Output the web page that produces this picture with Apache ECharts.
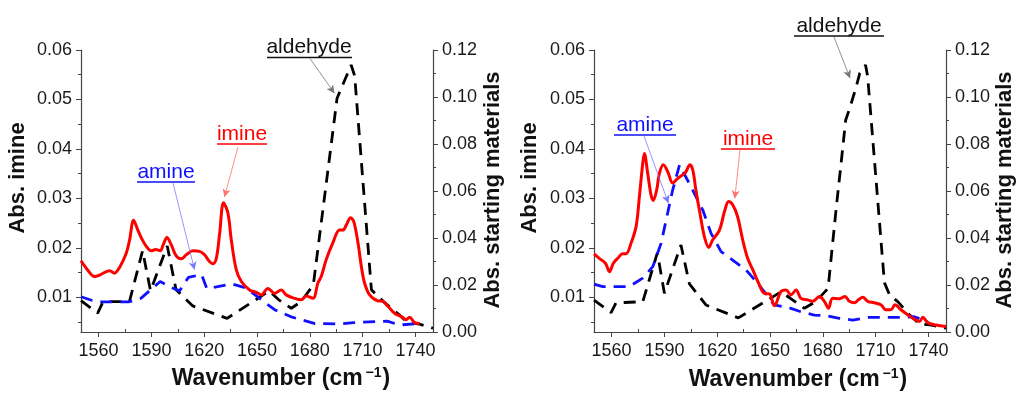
<!DOCTYPE html>
<html>
<head>
<meta charset="utf-8">
<title>imine / amine / aldehyde spectra</title>
<script src="https://cdn.jsdelivr.net/npm/echarts@6/dist/echarts.min.js"></script>
<style>
html, body { margin: 0; padding: 0; background: #fff; }
#chart { width: 1024px; height: 396px; }
</style>
</head>
<body>
<div id="chart"></div>
<script>
// ticks
const xTicks = [1560, 1590, 1620, 1650, 1680, 1710, 1740];
const xMinorTicks = [1575, 1605, 1635, 1665, 1695, 1725];
const imineTicks = [0.01, 0.02, 0.03, 0.04, 0.05, 0.06];
const imineMinorTicks = [0.005, 0.015, 0.025, 0.035, 0.045, 0.055];

// left panel - imine (left axis)
const imineA_x = [1550,1553,1557.7,1560.6,1566.3,1569,1572,1575.7,1577.6,1579.9,1582.3,1584.3,1587.1,1590,1592.4,1595,1596.9,1598.8,1601.3,1604.1,1607,1609.8,1613.6,1617.4,1620.2,1623.1,1625,1626.9,1628.8,1631,1633.5,1635.4,1638.2,1641.1,1645.8,1649.6,1652.4,1656.2,1660,1663.8,1666.6,1671.4,1675.2,1678,1681.8,1684.6,1686.5,1689.3,1693.1,1696.9,1698.8,1700.7,1703.2,1705,1707.4,1709.3,1711.1,1714,1718.7,1721.5,1724.4,1728.2,1732,1734.8,1736.7,1739.5,1742.4];
const imineA_y = [0.0174,0.0159,0.0142,0.0145,0.0154,0.0149,0.0161,0.0189,0.0216,0.0256,0.0236,0.0220,0.0203,0.0194,0.0197,0.0194,0.0208,0.0221,0.0206,0.0184,0.0178,0.0186,0.0194,0.0193,0.0186,0.0172,0.0168,0.0179,0.0230,0.0291,0.0270,0.0216,0.0156,0.0132,0.0115,0.0110,0.0105,0.0118,0.0108,0.0115,0.0105,0.0098,0.0095,0.0103,0.0098,0.0129,0.0142,0.0176,0.0210,0.0236,0.0236,0.0246,0.0261,0.0253,0.0210,0.0162,0.0129,0.0105,0.0093,0.0092,0.0082,0.0068,0.0061,0.0055,0.0060,0.0049,0.0047];

// left panel - aldehyde (right axis)
const aldA_x = [1550,1559.5,1562.5,1577.5,1585,1589.5,1599,1604,1613.5,1633,1657,1662,1669.5,1675,1682,1695.5,1703.5,1705.5,1715,1718,1722.5,1731,1735,1742,1750];
const aldA_y = [0.0133,0.0080,0.0129,0.0129,0.0346,0.0175,0.0366,0.0180,0.0111,0.0058,0.0175,0.0139,0.0101,0.0129,0.0200,0.0995,0.1136,0.1090,0.0180,0.0157,0.0125,0.0072,0.0044,0.0034,0.0016];

// left panel - amine (right axis)
const amineA_x = [1550,1556,1562,1577,1584,1595,1601,1606,1611,1618.5,1621.5,1636,1644,1652,1660,1670,1683,1697,1705,1724,1731,1741];
const amineA_y = [0.0150,0.0135,0.0128,0.0128,0.0143,0.0215,0.0190,0.0175,0.0232,0.0245,0.0185,0.0204,0.0187,0.0140,0.0095,0.0063,0.0036,0.0034,0.0040,0.0046,0.0030,0.0035];

// right panel - imine (left axis)
const imineB_x = [1550,1553,1556.5,1558.8,1561,1563.5,1566.3,1568.2,1571,1573.9,1575.8,1577.7,1578.6,1580.5,1582.4,1583.7,1585.6,1587.2,1589.4,1591.9,1594.7,1596.6,1598.9,1601.9,1604.5,1606.1,1607.9,1610.2,1612.7,1615.2,1617.4,1621.3,1624.1,1626.5,1628.8,1631.6,1634.5,1637.3,1640.2,1644,1646.8,1649.7,1652.5,1656.3,1659.1,1661.9,1664.8,1667.6,1671.4,1674.3,1678.1,1680.9,1683.2,1685.6,1689.4,1692.6,1695.1,1698,1700.2,1702.7,1705.5,1709.3,1713,1715.9,1718.8,1721,1724.4,1728.2,1732,1734.9,1736.8,1739.6,1744.3,1750];
const imineB_y = [0.0188,0.0179,0.0169,0.0152,0.0169,0.0179,0.0188,0.0188,0.0209,0.0243,0.0304,0.0371,0.0391,0.0351,0.0307,0.0296,0.0317,0.0351,0.0368,0.0354,0.0331,0.0337,0.0344,0.0352,0.0368,0.0358,0.0317,0.0270,0.0223,0.0201,0.0216,0.0236,0.0273,0.0294,0.0287,0.0263,0.0216,0.0179,0.0156,0.0125,0.0108,0.0107,0.0083,0.0112,0.0115,0.0105,0.0115,0.0098,0.0095,0.0092,0.0102,0.0092,0.0078,0.0098,0.0097,0.0102,0.0092,0.0089,0.0095,0.0100,0.0092,0.0089,0.0085,0.0075,0.0075,0.0085,0.0075,0.0065,0.0056,0.0051,0.0060,0.0049,0.0044,0.0041];

// right panel - aldehyde (right axis)
const aldB_x = [1550,1559.7,1562.5,1577.7,1586,1590,1599.4,1604.2,1613.6,1632,1656.3,1663,1669.5,1676,1683,1687.7,1690.6,1693,1695.3,1699,1701,1704.3,1705.5,1715,1718,1722.6,1729.4,1735,1741,1750];
const aldB_y = [0.0136,0.0082,0.0124,0.0129,0.0337,0.0165,0.0370,0.0205,0.0115,0.0060,0.0171,0.0136,0.0101,0.0129,0.0186,0.0533,0.0732,0.0902,0.0952,0.1044,0.1101,0.1136,0.1086,0.0210,0.0157,0.0129,0.0072,0.0034,0.0030,0.0016];

// right panel - amine (right axis)
const amineB_x = [1550,1555,1570,1577.7,1583.4,1588.1,1591,1594.7,1598.6,1605.1,1611.8,1616.5,1622.2,1628.8,1636.4,1643,1649.7,1652.4,1660,1667.6,1675.2,1681.8,1689.4,1697,1705.5,1711.2,1724.4,1732,1739.6];
const amineB_y = [0.0204,0.0193,0.0193,0.0229,0.0278,0.0377,0.0477,0.0604,0.0711,0.0618,0.0519,0.0420,0.0342,0.0306,0.0264,0.0207,0.0143,0.0115,0.0105,0.0086,0.0072,0.0070,0.0058,0.0051,0.0062,0.0062,0.0062,0.0065,0.0044];

const zip = (xs, ys) => xs.map((x, i) => [x, ys[i]])

const FONT = 'Liberation Sans, Arial, sans-serif'
const AXIS_COLOR = '#444'
const LABEL_COLOR = '#1a1a1a'

const chart = echarts.init(document.getElementById('chart'))

const grids = [
  { left: 81, top: 50, width: 352, height: 282 },
  { left: 594, top: 50, width: 352, height: 282 }
]

const makeX = (gridIndex) => [
  {
    type: 'value', gridIndex, min: 1550, max: 1750,
    axisLine: { show: true, onZero: false, lineStyle: { color: AXIS_COLOR, width: 1.2 } },
    axisTick: { show: true, customValues: xTicks, length: 5, lineStyle: { color: AXIS_COLOR } },
    axisLabel: { customValues: xTicks, color: LABEL_COLOR, fontSize: 18, fontFamily: FONT, margin: 10,
      formatter: (v) => String(v) },
    splitLine: { show: false }
  },
  {
    type: 'value', gridIndex, min: 1550, max: 1750,
    axisLine: { show: false },
    axisTick: { show: true, customValues: xMinorTicks, length: 3, lineStyle: { color: AXIS_COLOR } },
    axisLabel: { show: false },
    splitLine: { show: false }
  }
]

const makeY = (gridIndex) => [
  // left axis, imine
  {
    type: 'value', gridIndex, min: 0.003, max: 0.06, position: 'left',
    axisLine: { show: true, onZero: false, lineStyle: { color: AXIS_COLOR, width: 1.2 } },
    axisTick: { show: true, customValues: imineTicks, length: 5, lineStyle: { color: AXIS_COLOR } },
    axisLabel: { customValues: imineTicks, color: LABEL_COLOR, fontSize: 18, fontFamily: FONT, margin: 9,
      formatter: (v) => v.toFixed(2) },
    splitLine: { show: false }
  },
  // right axis, starting materials
  {
    type: 'value', gridIndex, min: 0, max: 0.12, interval: 0.02, position: 'right',
    axisLine: { show: true, onZero: false, lineStyle: { color: AXIS_COLOR, width: 1.2 } },
    axisTick: { show: true, length: 5, lineStyle: { color: AXIS_COLOR } },
    minorTick: { show: true, splitNumber: 2, length: 3, lineStyle: { color: AXIS_COLOR } },
    axisLabel: { color: LABEL_COLOR, fontSize: 18, fontFamily: FONT, margin: 9,
      formatter: (v) => v.toFixed(2) },
    splitLine: { show: false }
  },
  // left minor ticks
  {
    type: 'value', gridIndex, min: 0.003, max: 0.06, position: 'left',
    axisLine: { show: false },
    axisTick: { show: true, customValues: imineMinorTicks, length: 3, lineStyle: { color: AXIS_COLOR } },
    axisLabel: { show: false },
    splitLine: { show: false }
  }
]

// arrow from a label (pixel) to a point on the curve (data coord)
const arrow = (px, py, coord, color) => ({
  silent: true,
  animation: false,
  symbol: ['none', 'arrow'],
  symbolSize: [6, 8],
  label: { show: false },
  lineStyle: { color, width: 0.8, type: 'solid' },
  emphasis: { disabled: true },
  data: [[{ x: px, y: py }, { coord }]]
})

const lineSeries = (name, data, xIdx, yIdx, color, dashed, markLine) => ({
  name, type: 'line', data,
  xAxisIndex: xIdx, yAxisIndex: yIdx,
  showSymbol: false,
  smooth: dashed ? false : 0.35,
  lineStyle: dashed
    ? { color, width: 2.8, type: [12, 8] }
    : { color, width: 3 },
  z: dashed ? 2 : 3,
  markLine
})

const text = (x, y, str, color, extra) => Object.assign({
  type: 'text', x, y, silent: true,
  style: { text: str, fill: color, font: '21px ' + FONT, textAlign: 'center', textVerticalAlign: 'middle' }
}, extra || {})

const underline = (x1, x2, y, color) => ({
  type: 'line', silent: true,
  shape: { x1, y1: y, x2, y2: y },
  style: { stroke: color, lineWidth: 1.5 }
})

const titleStyle = { font: 'bold 22px ' + FONT, fill: '#111', textAlign: 'center', textVerticalAlign: 'middle' }

const xTitle = (x, y) => ({
  type: 'text', x, y, silent: true,
  style: {
    text: '{a|Wavenumber (cm}{s|−1}{a|)}',
    textAlign: 'center', textVerticalAlign: 'middle',
    rich: {
      a: { font: 'bold 23px ' + FONT, fill: '#111' },
      s: { font: 'bold 14px ' + FONT, fill: '#111', padding: [0, 1, 12, 3] }
    }
  }
})

const option = {
  backgroundColor: '#fff',
  animation: false,
  grid: grids,
  xAxis: [...makeX(0), ...makeX(1)],
  yAxis: [...makeY(0), ...makeY(1)],
  series: [
    lineSeries('aldehyde', zip(aldA_x, aldA_y), 0, 1, '#000', true, arrow(310, 58.5, [1694, 0.1016], '#777')),
    lineSeries('amine', zip(amineA_x, amineA_y), 0, 1, '#1010ff', true, arrow(173, 183, [1614.5, 0.0265], '#7a7aff')),
    lineSeries('imine', zip(imineA_x, imineA_y), 0, 0, '#ff0000', false, arrow(238, 147, [1631.5, 0.0303], '#ff7070')),
    lineSeries('aldehyde', zip(aldB_x, aldB_y), 2, 4, '#000', true, arrow(834, 37, [1695.5, 0.108], '#777')),
    lineSeries('amine', zip(amineB_x, amineB_y), 2, 4, '#1010ff', true, arrow(644, 136, [1592.3, 0.0548], '#7a7aff')),
    lineSeries('imine', zip(imineB_x, imineB_y), 2, 3, '#ff0000', false, arrow(740, 150, [1630, 0.0300], '#ff7070'))
  ],
  graphic: [
    // axis titles
    { type: 'text', x: 18, y: 178, rotation: Math.PI / 2, silent: true, style: Object.assign({ text: 'Abs. imine' }, titleStyle) },
    { type: 'text', x: 493, y: 190, rotation: Math.PI / 2, silent: true, style: Object.assign({ text: 'Abs. starting materials' }, titleStyle) },
    { type: 'text', x: 530, y: 178, rotation: Math.PI / 2, silent: true, style: Object.assign({ text: 'Abs. imine' }, titleStyle) },
    { type: 'text', x: 1005, y: 190, rotation: Math.PI / 2, silent: true, style: Object.assign({ text: 'Abs. starting materials' }, titleStyle) },
    xTitle(281, 379),
    xTitle(798, 380),
    // annotations, left panel
    text(309, 47, 'aldehyde', '#111'),
    underline(267, 352, 57.5, '#111'),
    text(242, 134, 'imine', '#ff0000'),
    underline(217, 267, 144, '#ff0000'),
    text(166, 172, 'amine', '#1010ff'),
    underline(137, 195, 182, '#1010ff'),
    // annotations, right panel
    text(839, 26, 'aldehyde', '#111'),
    underline(794, 884, 36, '#111'),
    text(645, 125, 'amine', '#1010ff'),
    underline(614, 676, 135, '#1010ff'),
    text(748, 139, 'imine', '#ff0000'),
    underline(721, 775, 149, '#ff0000')
  ]
}

chart.setOption(option)
</script>
</body>
</html>
